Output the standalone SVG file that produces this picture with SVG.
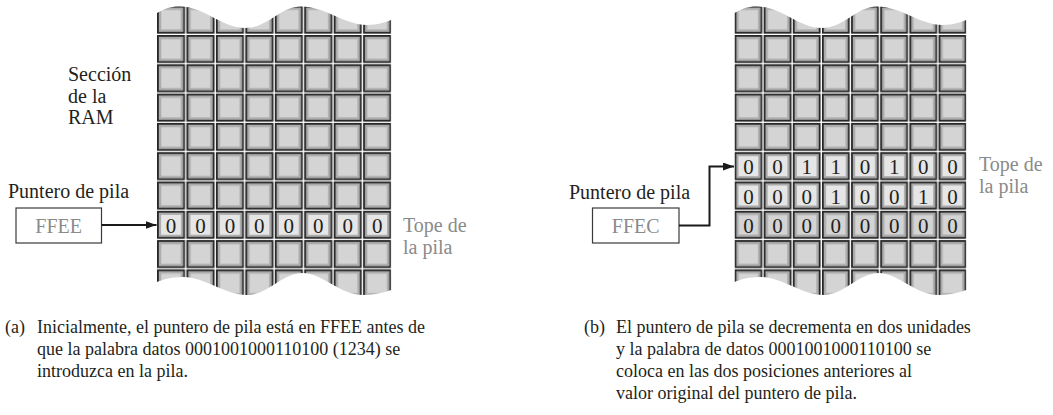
<svg xmlns="http://www.w3.org/2000/svg" xmlns:xlink="http://www.w3.org/1999/xlink" width="1053" height="415" viewBox="0 0 1053 415">
<style>
text{font-family:"Liberation Serif","Times New Roman",serif}
.lbl{font-size:20px;fill:#231f20}
.gry{font-size:20px;fill:#8a8a8a}
.dig{font-size:21px;fill:#231f20;text-anchor:middle}
.cap{font-size:18px;fill:#231f20}
.box{fill:#fff;stroke:#3a3a3a;stroke-width:1.2}
.hl{fill:#e6e6e6}
.con{fill:none;stroke:#1a1a1a;stroke-width:2}
</style>
<defs>
<pattern id="cell" patternUnits="userSpaceOnUse" x="0" y="5.7" width="29.45" height="29.3">
<rect x="0.9" y="0.9" width="26.25" height="26.2" fill="#ababab" stroke="#262626" stroke-width="1.8"/>
<rect x="4.2" y="4.2" width="19.6" height="19.6" fill="#d4d4d4"/>
</pattern>
<path id="gridShape" fill="url(#cell)" d="M0,13 C8.5,8 15.5,6 23.5,6.5 C48,7 65,28 88,28 C111,28 123,6.5 144,6.5 C168,6.5 188,25 210,25 C221,25 228.5,22 234.2,20 L234.2,290 C228,292 218,295 206,295 C183,295 165,273 146,273 C125,273 111,295 90,295 C68,295 48,277 26,277 C13,277 5,280 0,282 Z"/>
<marker id="arr" markerUnits="userSpaceOnUse" markerWidth="11" markerHeight="8" refX="11" refY="4" orient="auto">
<path d="M0,0 L11,4 L0,8 Z" fill="#1a1a1a"/>
</marker>
</defs>

<g id="gridA">
<use xlink:href="#gridShape" href="#gridShape" transform="translate(157,0)"/>
<g>
<rect class="hl" x="161.2" y="215" width="19.6" height="19.6"/>
<rect class="hl" x="190.65" y="215" width="19.6" height="19.6"/>
<rect class="hl" x="220.1" y="215" width="19.6" height="19.6"/>
<rect class="hl" x="249.55" y="215" width="19.6" height="19.6"/>
<rect class="hl" x="279" y="215" width="19.6" height="19.6"/>
<rect class="hl" x="308.45" y="215" width="19.6" height="19.6"/>
<rect class="hl" x="337.9" y="215" width="19.6" height="19.6"/>
<rect class="hl" x="367.35" y="215" width="19.6" height="19.6"/>
</g>
<g>
<text class="dig" x="171" y="233">0</text>
<text class="dig" x="200.45" y="233">0</text>
<text class="dig" x="229.9" y="233">0</text>
<text class="dig" x="259.35" y="233">0</text>
<text class="dig" x="288.8" y="233">0</text>
<text class="dig" x="318.25" y="233">0</text>
<text class="dig" x="347.7" y="233">0</text>
<text class="dig" x="377.15" y="233">0</text>
</g>
</g>

<g id="labelRAM">
<text class="lbl" x="68" y="81">Sección</text>
<text class="lbl" x="68" y="102.5">de la</text>
<text class="lbl" x="68" y="124">RAM</text>
</g>

<g id="ptrA">
<text class="lbl" x="8" y="198">Puntero de pila</text>
<rect class="box" x="16" y="208" width="85.5" height="35"/>
<text class="gry" x="58.7" y="233" text-anchor="middle">FFEE</text>
</g>

<g id="topeA">
<text class="gry" x="403" y="232">Tope de</text>
<text class="gry" x="403" y="253.5">la pila</text>
</g>

<g id="gridB">
<use xlink:href="#gridShape" href="#gridShape" transform="translate(734.5,0) scale(0.9898,1)"/>
<g>
<rect class="hl" x="738.7" y="156.4" width="19.4" height="19.6"/>
<rect class="hl" x="767.85" y="156.4" width="19.4" height="19.6"/>
<rect class="hl" x="797" y="156.4" width="19.4" height="19.6"/>
<rect class="hl" x="826.15" y="156.4" width="19.4" height="19.6"/>
<rect class="hl" x="855.3" y="156.4" width="19.4" height="19.6"/>
<rect class="hl" x="884.45" y="156.4" width="19.4" height="19.6"/>
<rect class="hl" x="913.6" y="156.4" width="19.4" height="19.6"/>
<rect class="hl" x="942.75" y="156.4" width="19.4" height="19.6"/>
<rect class="hl" x="738.7" y="185.7" width="19.4" height="19.6"/>
<rect class="hl" x="767.85" y="185.7" width="19.4" height="19.6"/>
<rect class="hl" x="797" y="185.7" width="19.4" height="19.6"/>
<rect class="hl" x="826.15" y="185.7" width="19.4" height="19.6"/>
<rect class="hl" x="855.3" y="185.7" width="19.4" height="19.6"/>
<rect class="hl" x="884.45" y="185.7" width="19.4" height="19.6"/>
<rect class="hl" x="913.6" y="185.7" width="19.4" height="19.6"/>
<rect class="hl" x="942.75" y="185.7" width="19.4" height="19.6"/>
</g>
<g>
<text class="dig" x="748.4" y="174.4">0</text>
<text class="dig" x="777.55" y="174.4">0</text>
<text class="dig" x="806.7" y="174.4">1</text>
<text class="dig" x="835.85" y="174.4">1</text>
<text class="dig" x="865" y="174.4">0</text>
<text class="dig" x="894.15" y="174.4">1</text>
<text class="dig" x="923.3" y="174.4">0</text>
<text class="dig" x="952.45" y="174.4">0</text>
<text class="dig" x="748.4" y="203.7">0</text>
<text class="dig" x="777.55" y="203.7">0</text>
<text class="dig" x="806.7" y="203.7">0</text>
<text class="dig" x="835.85" y="203.7">1</text>
<text class="dig" x="865" y="203.7">0</text>
<text class="dig" x="894.15" y="203.7">0</text>
<text class="dig" x="923.3" y="203.7">1</text>
<text class="dig" x="952.45" y="203.7">0</text>
<text class="dig" x="748.4" y="233">0</text>
<text class="dig" x="777.55" y="233">0</text>
<text class="dig" x="806.7" y="233">0</text>
<text class="dig" x="835.85" y="233">0</text>
<text class="dig" x="865" y="233">0</text>
<text class="dig" x="894.15" y="233">0</text>
<text class="dig" x="923.3" y="233">0</text>
<text class="dig" x="952.45" y="233">0</text>
</g>
</g>

<g id="ptrB">
<text class="lbl" x="569" y="199">Puntero de pila</text>
<rect class="box" x="592.5" y="208" width="86.5" height="35"/>
<text class="gry" x="635.7" y="233" text-anchor="middle">FFEC</text>
</g>

<g id="topeB">
<text class="gry" x="979" y="171">Tope de</text>
<text class="gry" x="979" y="192.5">la pila</text>
</g>

<g id="connectors">
<path class="con" d="M101.5,225 H156.5" marker-end="url(#arr)"/>
<path class="con" d="M679,225.5 H709.5 V166.5 H734" marker-end="url(#arr)"/>
</g>

<g id="captionA">
<text class="cap" x="5" y="333">(a)</text>
<text class="cap" x="37" y="333">Inicialmente, el puntero de pila está en FFEE antes de</text>
<text class="cap" x="37" y="355">que la palabra datos 0001001000110100 (1234) se</text>
<text class="cap" x="37" y="377">introduzca en la pila.</text>
</g>

<g id="captionB">
<text class="cap" x="584" y="333">(b)</text>
<text class="cap" x="616" y="333">El puntero de pila se decrementa en dos unidades</text>
<text class="cap" x="616" y="355">y la palabra de datos 0001001000110100 se</text>
<text class="cap" x="616" y="377">coloca en las dos posiciones anteriores al</text>
<text class="cap" x="616" y="399">valor original del puntero de pila.</text>
</g>
</svg>
